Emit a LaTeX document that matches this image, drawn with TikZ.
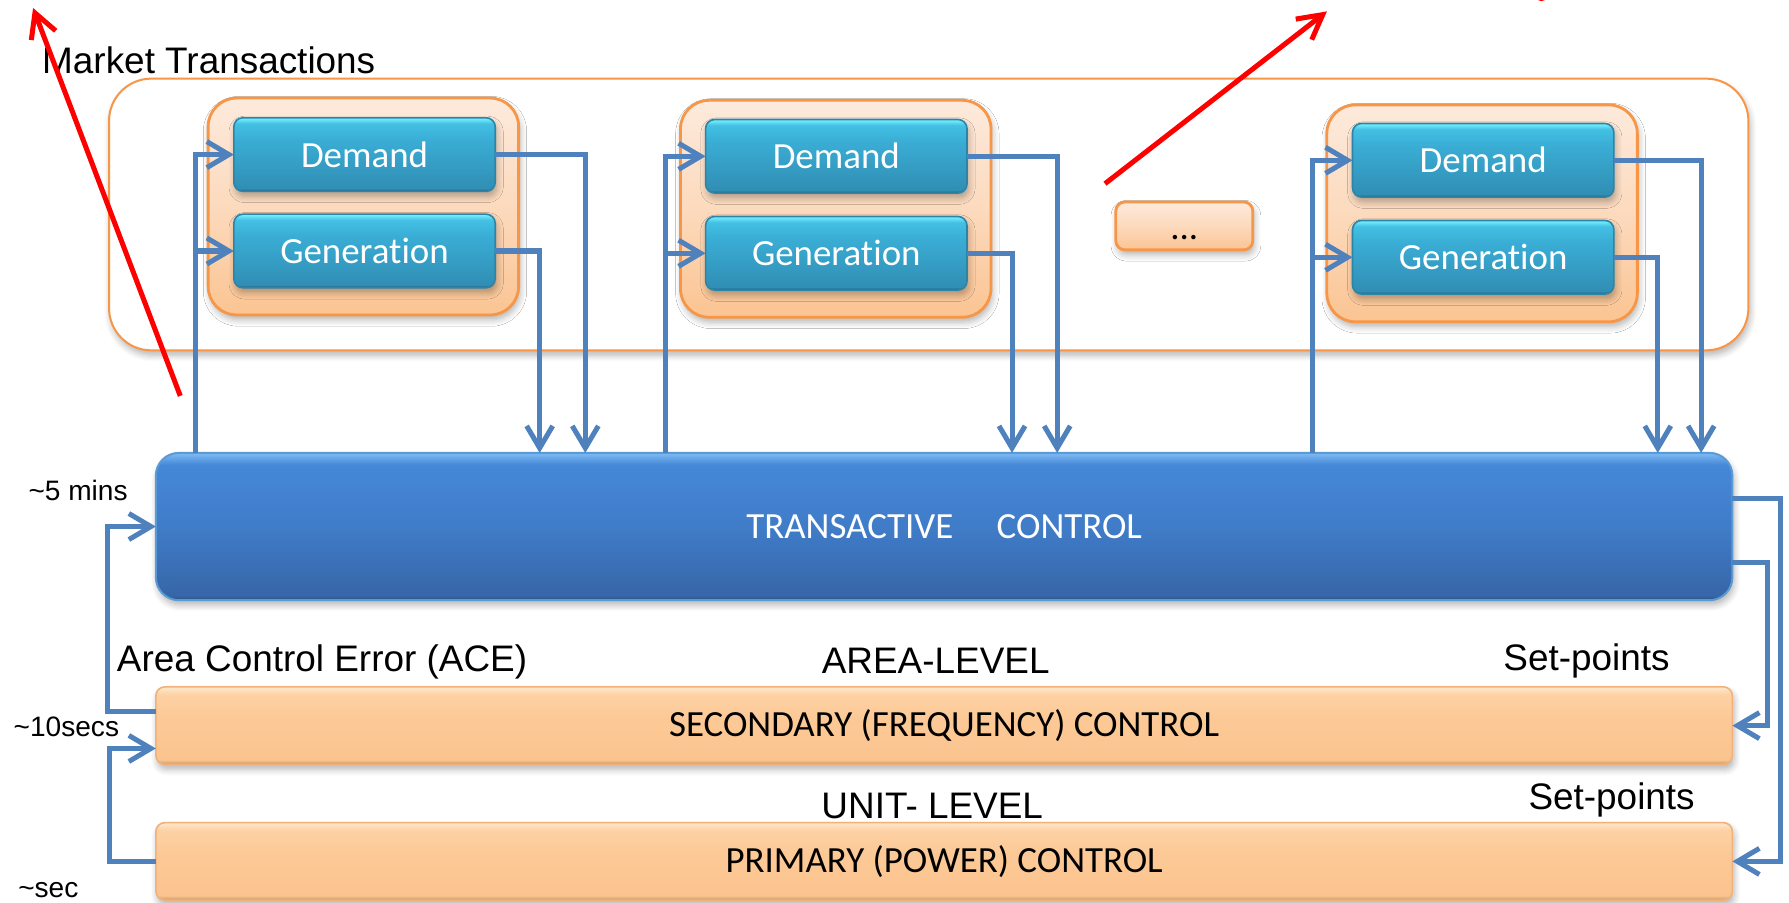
\documentclass[tikz,border=0pt]{standalone}
\usepackage{fontspec}
\setmainfont{Liberation Sans}
\newfontfamily\calfont[Ligatures=NoCommon]{Carlito}
\usetikzlibrary{arrows.meta,calc,shadows.blur}

% palette
\definecolor{flowblue}{HTML}{4F81BD}
\definecolor{mtorange}{HTML}{F79646}
\definecolor{tealhi}{HTML}{7AF4FF}
\definecolor{tealtop}{HTML}{43C0E4}
\definecolor{tealmid}{HTML}{3AADD5}
\definecolor{tealbot}{HTML}{318EB4}
\definecolor{tealedge}{HTML}{1F5E7A}
\definecolor{tealline}{HTML}{2B85A8}
\definecolor{peachtop}{HTML}{FDEADC}
\definecolor{peachmid}{HTML}{FCDABD}
\definecolor{peachbot}{HTML}{FBC492}
\definecolor{tchi}{HTML}{80BBF4}
\definecolor{tctop}{HTML}{4588D8}
\definecolor{tcmid}{HTML}{407CC8}
\definecolor{tcbot}{HTML}{3766A8}
\definecolor{tcedge}{HTML}{2A4E7E}
\definecolor{tcline}{HTML}{5B9BD5}
\definecolor{ctlhi}{HTML}{FEE8CC}
\definecolor{ctltop}{HTML}{FDD1A4}
\definecolor{ctlmid}{HTML}{FCC996}
\definecolor{ctlbot}{HTML}{FBC48F}
\definecolor{ctledge}{HTML}{C99565}
\definecolor{ctlline}{HTML}{F2B07A}

% glossy fills (the 25bp--75bp band is stretched over each box)
\pgfdeclareverticalshading{tealshade}{100bp}{color(0bp)=(tealedge); color(25bp)=(tealedge); color(27bp)=(tealbot); color(60bp)=(tealmid); color(71bp)=(tealtop); color(75bp)=(tealhi); color(100bp)=(tealhi)}
\pgfdeclareverticalshading{peachshade}{100bp}{color(0bp)=(peachbot); color(25bp)=(peachbot); color(50bp)=(peachmid); color(75bp)=(peachtop); color(100bp)=(peachtop)}
\pgfdeclareverticalshading{tcshade}{100bp}{color(0bp)=(tcedge); color(25bp)=(tcedge); color(26.5bp)=(tcbot); color(50bp)=(tcmid); color(71bp)=(tctop); color(75bp)=(tchi); color(100bp)=(tchi)}
\pgfdeclareverticalshading{ctlshade}{100bp}{color(0bp)=(ctledge); color(25bp)=(ctledge); color(28bp)=(ctlbot); color(55bp)=(ctlmid); color(70bp)=(ctltop); color(75bp)=(ctlhi); color(100bp)=(ctlhi)}

\begin{document}
\begin{tikzpicture}[x=0.01cm,y=-0.01cm,
  every node/.style={inner sep=0pt,outer sep=0pt},
  bigfont/.style={font=\fontsize{9.2}{11}\selectfont},
  lbl/.style={anchor=base west,bigfont},
  tlbl/.style={anchor=base west,font=\fontsize{7}{8.5}\selectfont},
  soft/.style={blur shadow={shadow blur steps=6,shadow xshift=0.4pt,shadow yshift=-1.2pt,shadow opacity=30,shadow blur radius=1.6pt}},
  flow/.style={draw=flowblue,line width=1.25pt,-{Straight Barb[length=5.5pt,width=6.5pt]}},
  redarrow/.style={draw=red,line width=1.25pt,-{Straight Barb[length=6pt,width=6.5pt]}},
  marketbox/.style={draw=mtorange,line width=0.5pt,fill=white,rounded corners=0.37cm,
    minimum width=14.36cm,minimum height=2.38cm,soft},
  grpbox/.style={draw=mtorange,line width=0.7pt,shading=peachshade,rounded corners=0.25cm,
    minimum width=2.72cm,minimum height=1.9cm,soft},
  tealbox/.style={draw=tealline,line width=0.4pt,shading=tealshade,rounded corners=0.08cm,
    minimum width=2.29cm,minimum height=0.645cm,text=white,font=\calfont\fontsize{9.2}{11}\selectfont,soft},
  dotbox/.style={draw=mtorange,line width=0.7pt,shading=peachshade,rounded corners=0.08cm,
    minimum width=1.2cm,minimum height=0.42cm,soft},
  tcbox/.style={draw=tcline,line width=0.5pt,shading=tcshade,rounded corners=0.2cm,
    minimum width=13.81cm,minimum height=1.29cm,text=white,font=\calfont\fontsize{9.2}{11}\selectfont,soft},
  ctlbox/.style={draw=ctlline,line width=0.4pt,shading=ctlshade,rounded corners=0.08cm,
    minimum width=13.81cm,minimum height=0.68cm,text=black,font=\calfont\fontsize{9.2}{11}\selectfont,soft},
]
\useasboundingbox (0,0) rectangle (1568,791);

% market layer
\node[marketbox] (mt) at (814,188) {};
\node[lbl] (mtlbl) at (37,64) {Market Transactions};

\node[grpbox] (grp1) at (318.5,181) {};
\node[tealbox] (d1) at (319.5,135.5) {Demand};
\node[tealbox] (g1) at (319.5,220) {Generation};

\node[grpbox] (grp2) at (732.5,183) {};
\node[tealbox] (d2) at (733,137) {Demand};
\node[tealbox] (g2) at (733,222) {Generation};

\node[grpbox] (grp3) at (1299,187) {};
\node[tealbox] (d3) at (1300,140.5) {Demand};
\node[tealbox] (g3) at (1300,225.5) {Generation};

\node[dotbox] (more) at (1038,198) {};
\node[anchor=base,font=\calfont\fontsize{9.2}{11}\selectfont] (moretxt) at (1038,210) {...};

% control layers
\node[tcbox] (tc) at (827.5,461.5) {TRANSACTIVE\hspace*{10.8pt}CONTROL};
\node[ctlbox] (sc) at (827.5,636) {SECONDARY (FREQUENCY) CONTROL};
\node[ctlbox] (pc) at (827.5,755) {PRIMARY (POWER) CONTROL};

% labels
\node[tlbl] (t5) at (25,439) {\textasciitilde5 mins};
\node[tlbl] (t10) at (12,645.6) {\textasciitilde10secs};
\node[tlbl] (t1) at (16,787) {\textasciitilde sec};
\node[lbl] (ace) at (102.5,588.7) {Area Control Error (ACE)};
\node[lbl] (area) at (720.3,590) {AREA-LEVEL};
\node[lbl] (unit) at (720,717) {UNIT- LEVEL};
\node[lbl] (sp1) at (1317.7,587.8) {Set-points};
\node[lbl] (sp2) at (1339.7,709.3) {Set-points};

% vertical rails of the bid/offer loops
\coordinate (in1) at (171,0);   \coordinate (go1) at (473,0);  \coordinate (do1) at (513,0);
\coordinate (in2) at (583.5,0); \coordinate (go2) at (887,0);  \coordinate (do2) at (926.6,0);
\coordinate (in3) at (1150,0);  \coordinate (go3) at (1453,0); \coordinate (do3) at (1491,0);

% loops between transactive control and the market participants
\draw[flow] (in1 |- tc.north) |- (d1.west);
\draw[flow] (in1 |- g1.west) -- (g1.west);
\draw[flow] (d1.east) -| (do1 |- tc.north);
\draw[flow] (g1.east) -| (go1 |- tc.north);

\draw[flow] (in2 |- tc.north) |- (d2.west);
\draw[flow] (in2 |- g2.west) -- (g2.west);
\draw[flow] (d2.east) -| (do2 |- tc.north);
\draw[flow] (g2.east) -| (go2 |- tc.north);

\draw[flow] (in3 |- tc.north) |- (d3.west);
\draw[flow] (in3 |- g3.west) -- (g3.west);
\draw[flow] (d3.east) -| (do3 |- tc.north);
\draw[flow] (g3.east) -| (go3 |- tc.north);

% feedback on the left
\draw[flow] ([yshift=0.123cm]sc.west) -| ($(tc.west)+(-42,0)$) -- (tc.west);
\draw[flow] (pc.west) -| ($([yshift=-0.2cm]sc.west)+(-41,0)$) -- ([yshift=-0.2cm]sc.west);

% set-points on the right
\draw[flow] ([yshift=0.245cm]tc.east) -| ($(pc.east)+(42,0)$) -- (pc.east);
\draw[flow] ([yshift=-0.315cm]tc.east) -| ($(sc.east)+(31,0)$) -- (sc.east);

% red pointers
\coordinate (ra1) at (158,347);  \coordinate (rb1) at (29,7);
\coordinate (ra2) at (968.5,161); \coordinate (rb2) at (1163,10);
\draw[redarrow] (ra1) -- (rb1);
\draw[redarrow] (ra2) -- (rb2);
\fill[red] (1351,-3) ellipse [x radius=0.05cm,y radius=0.04cm];
\end{tikzpicture}
\end{document}
